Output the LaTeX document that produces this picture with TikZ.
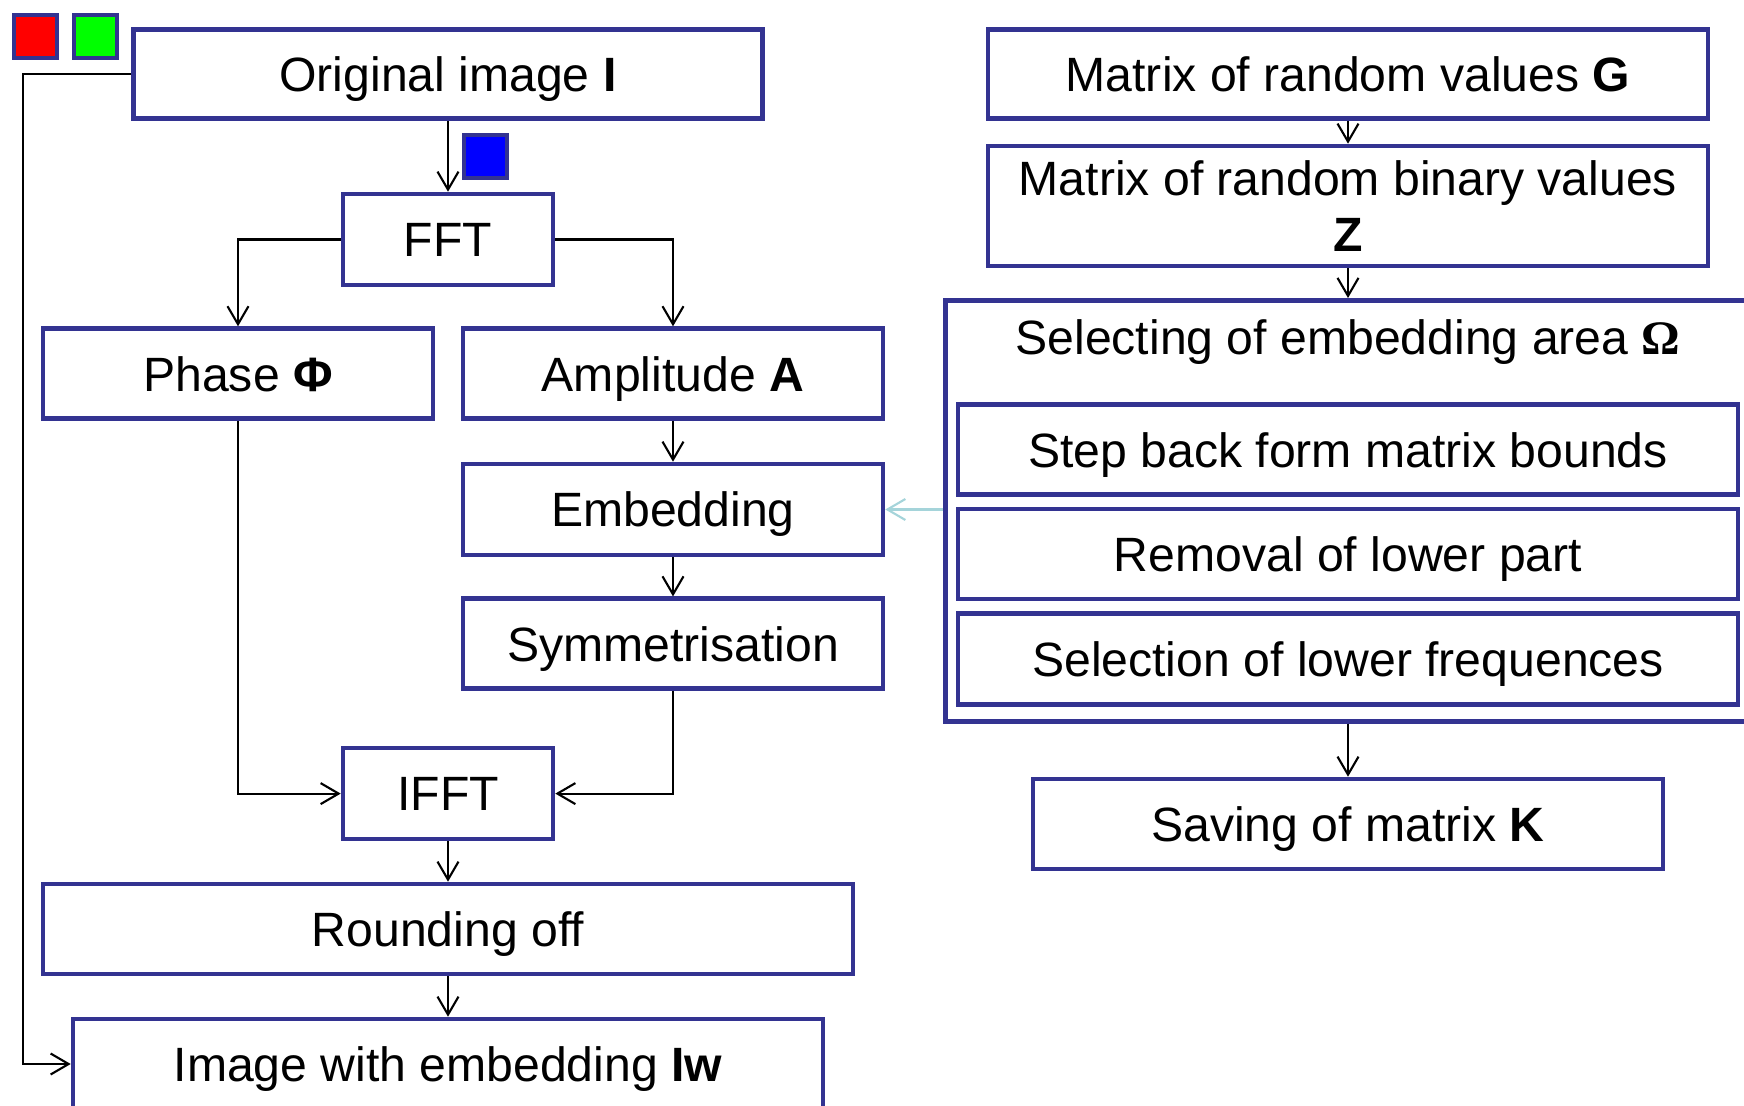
\documentclass[tikz,border=0pt]{standalone}
\usepackage{fontspec}
\setmainfont{Liberation Sans}
\newfontfamily\omegafont{Liberation Serif}
\usetikzlibrary{arrows.meta}
\definecolor{boxblue}{RGB}{51,51,145}
\definecolor{hintcyan}{RGB}{165,212,218}
\tikzset{
  block/.style={draw=boxblue, line width=1.3pt, fill=white, inner sep=0pt, text depth=0pt, align=center, font=\fontsize{13.7}{16}\selectfont},
  swatch/.style={draw=boxblue, line width=1.3pt, minimum size=0.43cm, inner sep=0pt},
  flow/.style={-{Straight Barb[length=1.8mm,width=2.1mm]}, line width=0.6pt}
}
\begin{document}
\begin{tikzpicture}
\useasboundingbox (0,0) rectangle (17.44,-11.06);
\clip (0,0) rectangle (17.44,-11.06);
\node[swatch, fill=red] (red) at (0.355,-0.365) {};
\node[swatch, fill=green] (green) at (0.955,-0.365) {};
\node[swatch, fill=blue] (blue) at (4.855,-1.565) {};
\node[block, minimum width=6.29cm, minimum height=0.89cm] (orig) at (4.48,-0.74) {Original image \textbf{I}};
\node[block, minimum width=2.1cm, minimum height=0.91cm] (fft) at (4.48,-2.395) {FFT};
\node[block, minimum width=3.9cm, minimum height=0.9cm] (phase) at (2.38,-3.736) {Phase \textbf{Φ}};
\node[block, minimum width=4.2cm, minimum height=0.9cm] (ampl) at (6.73,-3.736) {Amplitude \textbf{A}};
\node[block, minimum width=4.2cm, minimum height=0.91cm] (embed) at (6.73,-5.095) {Embedding};
\node[block, minimum width=4.2cm, minimum height=0.9cm] (sym) at (6.73,-6.437) {Symmetrisation};
\node[block, minimum width=2.1cm, minimum height=0.91cm] (ifft) at (4.48,-7.936) {IFFT};
\node[block, minimum width=8.1cm, minimum height=0.9cm] (round) at (4.48,-9.29) {Rounding off};
\node[block, minimum width=7.5cm, minimum height=0.9cm] (iw) at (4.48,-10.64) {Image with embedding \textbf{Iw}};
\node[block, minimum width=7.2cm, minimum height=0.89cm] (matG) at (13.48,-0.74) {Matrix of random values \textbf{G}};
\node[block, minimum width=7.2cm, minimum height=1.2cm] (matZ) at (13.48,-2.06) {Matrix of random binary values\\\textbf{Z}};
\node[block, anchor=north west, minimum width=9cm, minimum height=4.21cm] (area) at (9.43,-2.98) {};
\node[font=\fontsize{13.7}{16}\selectfont, text depth=0pt] (areatitle) at (13.48,-3.37) {Selecting of embedding area \textbf{\omegafont Ω}};
\node[block, minimum width=7.8cm, minimum height=0.9cm] (stepback) at (13.48,-4.496) {Step back form matrix bounds};
\node[block, minimum width=7.8cm, minimum height=0.9cm] (removal) at (13.48,-5.54) {Removal of lower part};
\node[block, minimum width=7.8cm, minimum height=0.91cm] (selection) at (13.48,-6.59) {Selection of lower frequences};
\node[block, minimum width=6.3cm, minimum height=0.9cm] (save) at (13.48,-8.24) {Saving of matrix \textbf{K}};
\draw[flow] (orig.south) -- (fft.north);
\draw[flow] (fft.west) -| (phase.north);
\draw[flow] (fft.east) -| (ampl.north);
\draw[flow] (ampl.south) -- (embed.north);
\draw[flow] (embed.south) -- (sym.north);
\draw[flow] (phase.south) |- (ifft.west);
\draw[flow] (sym.south) |- (ifft.east);
\draw[flow] (ifft.south) -- (round.north);
\draw[flow] (round.south) -- (iw.north);
\draw[flow] (orig.west) -- ++(-1.08,0) |- (iw.west);
\draw[flow] (matG.south) -- (matZ.north);
\draw[flow] (matZ.south) -- (matZ.south |- area.north);
\draw[flow] (save.north |- area.south) -- (save.north);
\draw[flow, draw=hintcyan] (area.west |- embed.east) -- (embed.east);
\end{tikzpicture}
\end{document}
